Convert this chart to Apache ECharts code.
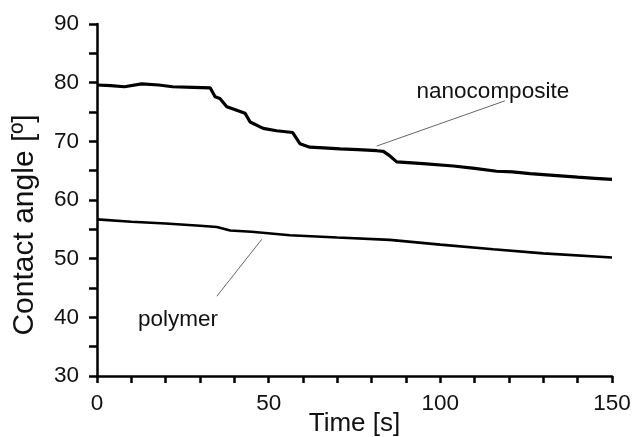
<!DOCTYPE html>
<html>
<head>
<meta charset="utf-8">
<script src="https://cdn.jsdelivr.net/npm/echarts@6/dist/echarts.min.js"></script>
<style>
  html, body { margin: 0; background: #fff; }
  #chart { width: 633px; height: 437px; }
</style>
</head>
<body>
<div id="chart"></div>
<script>
// contact angle vs time
const nanoTime = [0, 4, 8, 13, 18, 22, 28, 33, 34.4, 35.8, 37.8, 40.7, 43.1, 44.6, 48.4, 52.3, 57, 59.1, 62, 66, 70.8, 76, 81.5, 83.4, 84.9, 87.3, 95, 103.8, 110, 116.4, 121, 126.1, 133, 140, 145, 150]
const nanoAngle = [79.6, 79.5, 79.3, 79.8, 79.6, 79.3, 79.2, 79.1, 77.6, 77.3, 75.9, 75.3, 74.8, 73.3, 72.2, 71.8, 71.5, 69.6, 69.0, 68.9, 68.7, 68.6, 68.4, 68.3, 67.7, 66.5, 66.2, 65.8, 65.4, 64.9, 64.8, 64.5, 64.2, 63.9, 63.7, 63.5]
const polyTime = [0, 10, 20, 30, 34.9, 38.8, 45, 56.2, 70, 85.3, 100, 115.4, 130, 150]
const polyAngle = [56.7, 56.3, 56.0, 55.6, 55.4, 54.8, 54.6, 54.0, 53.6, 53.2, 52.4, 51.6, 50.9, 50.2]

// annotation anchors (data space): label centre, leader start, leader end
const nanoLabel = [115.3, 78.4]
const nanoLeader = [[81.5, 69.2], [118.8, 76.9]]
const polyLabel = [23.6, 39.5]
const polyLeader = [[48.0, 53.3], [34.9, 43.6]]

const font = '"Liberation Sans", Arial, sans-serif'
const black = { color: '#000', width: 2.5 }
const pairs = (xs, ys) => xs.map((x, i) => [x, ys[i]])

const annotate = (name, label, leader) => ({
  markLine: {
    silent: true, symbol: ['none', 'none'], animation: false,
    label: { show: false },
    lineStyle: { color: '#666', width: 1, type: 'solid' },
    data: [[{ coord: leader[0] }, { coord: leader[1] }]],
  },
  markPoint: {
    silent: true, symbol: 'circle', symbolSize: 0, animation: false,
    label: { show: true, position: 'inside', formatter: '{b}', color: '#111', fontSize: 22.5, fontFamily: font },
    data: [{ name, coord: label }],
  },
})

const chart = echarts.init(document.getElementById('chart'))
chart.setOption({
  animation: false,
  grid: { left: 97, right: 21, top: 24, bottom: 61, outerBoundsMode: 'none', containLabel: false },
  xAxis: {
    type: 'value', min: 0, max: 150, interval: 10,
    name: 'Time [s]', nameLocation: 'middle', nameGap: 35, nameMoveOverlap: false,
    nameTextStyle: { color: '#111', fontSize: 26, fontFamily: font },
    axisLine: { onZero: false, lineStyle: black },
    axisTick: { length: 7, lineStyle: black },
    axisLabel: { color: '#111', fontSize: 22.5, fontFamily: font, margin: 16, formatter: (v) => (v % 50 === 0 ? String(v) : '') },
    splitLine: { show: false },
  },
  yAxis: {
    type: 'value', min: 30, max: 90, interval: 10,
    name: 'Contact angle [º]', nameLocation: 'middle', nameGap: 57, nameMoveOverlap: false,
    nameTextStyle: { color: '#111', fontSize: 30, fontFamily: font, padding: [0, 50, 0, 0] },
    axisLine: { onZero: false, lineStyle: black },
    axisTick: { length: 8, lineStyle: black },
    minorTick: { show: true, splitNumber: 2, length: 8, lineStyle: black },
    axisLabel: { color: '#111', fontSize: 22.5, fontFamily: font, margin: 18 },
    splitLine: { show: false },
  },
  series: [
    {
      name: 'nanocomposite', type: 'line', showSymbol: false,
      data: pairs(nanoTime, nanoAngle),
      lineStyle: { color: '#000', width: 3.2 },
      ...annotate('nanocomposite', nanoLabel, nanoLeader),
    },
    {
      name: 'polymer', type: 'line', showSymbol: false,
      data: pairs(polyTime, polyAngle),
      lineStyle: { color: '#000', width: 2.6 },
      ...annotate('polymer', polyLabel, polyLeader),
    },
  ],
})
</script>
</body>
</html>
